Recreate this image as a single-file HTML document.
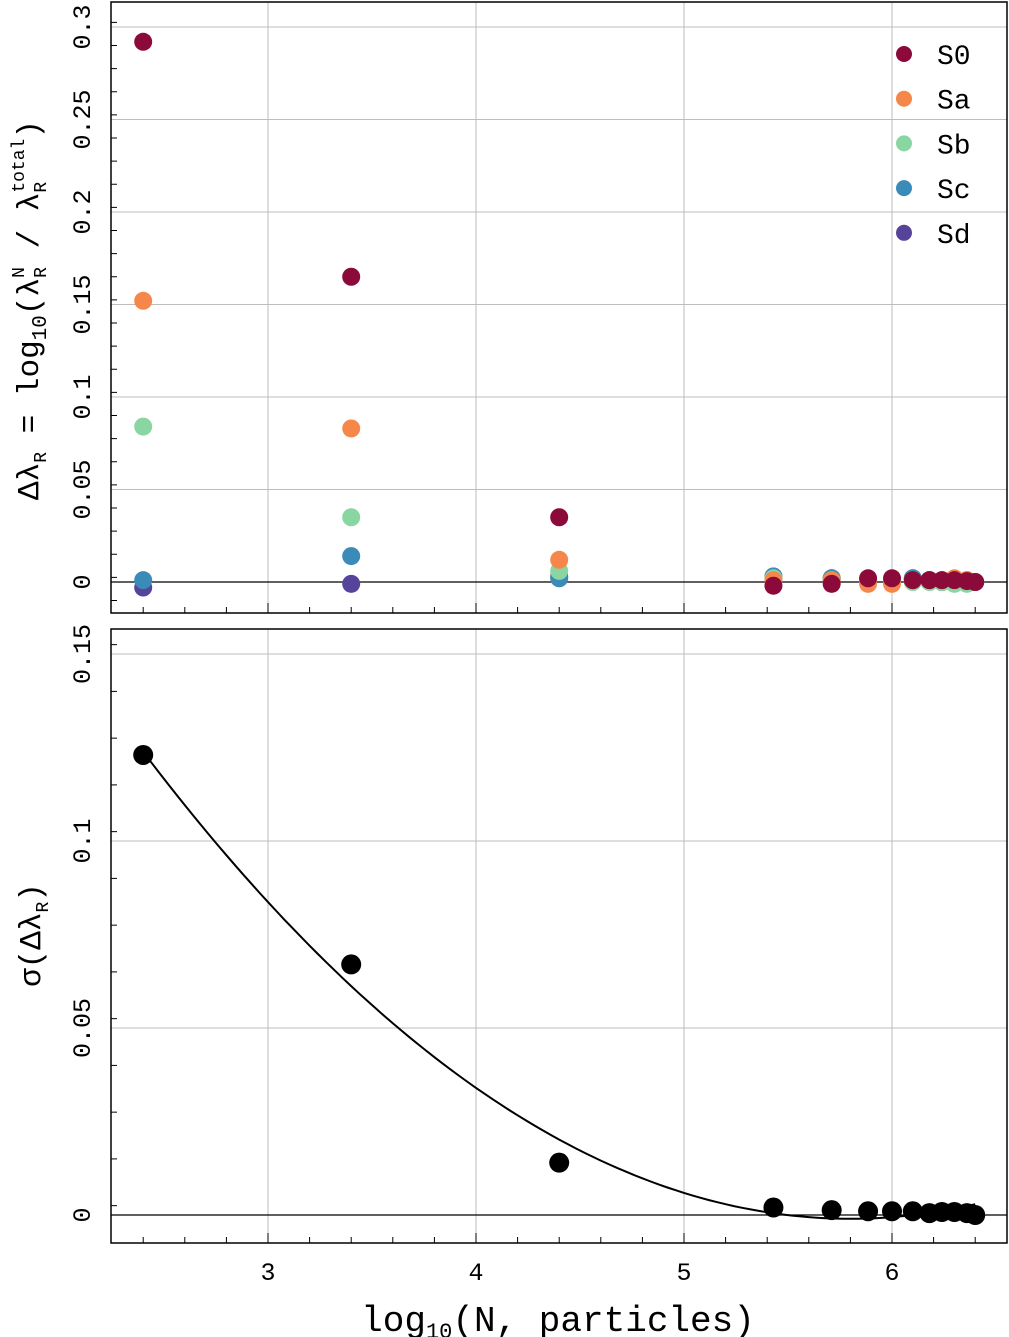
<!DOCTYPE html>
<html><head><meta charset="utf-8"><style>
body{margin:0;background:#fff}
svg{display:block;font-family:"Liberation Mono",monospace}
svg text{white-space:pre}
</style></head><body>
<svg id="c" width="1009" height="1337" viewBox="0 0 1009 1337"></svg>
<script>
const xs=[2.4,3.4,4.4,5.43,5.71,5.885,6.0,6.1,6.18,6.24,6.3,6.36,6.4];
const S0=[0.292,0.165,0.035,-0.002,-0.001,0.002,0.002,0.001,0.001,0.001,0.001,0.0005,0];
const Sa=[0.152,0.083,0.012,0.001,0.001,-0.001,-0.001,0.001,0.001,0.001,0.002,0.001,0];
const Sb=[0.084,0.035,0.006,0.002,0.001,0.001,0.001,0,0,0,-0.001,-0.001,0];
const Sc=[0.001,0.014,0.002,0.003,0.002,0.001,0.001,0.002,0.001,0,0.001,0.001,0];
const Sd=[-0.003,-0.001,0.003,0.003,0.002,0.001,0.001,0.002,0.001,0,0,0,0];
const sigma=[0.123,0.067,0.014,0.002,0.0013,0.001,0.001,0.001,0.0005,0.0008,0.0008,0.0005,0];
const fitA=0.0108, fitX0=5.8, fitC=-0.001;
const xTicks=[3,4,5,6];
const topTicks=[0,0.05,0.1,0.15,0.2,0.25,0.3];
const botTicks=[0,0.05,0.1,0.15];
const seriesNames=["Sd","Sc","Sb","Sa","S0"];
const legendNames=["S0","Sa","Sb","Sc","Sd"];
const colors={S0:"#8b0a3a",Sa:"#f6874a",Sb:"#8ad6a2",Sc:"#3a8bb8",Sd:"#56449a"};
const data={S0,Sa,Sb,Sc,Sd};

const svg=document.getElementById('c');
const NS="http://www.w3.org/2000/svg";
function mk(t,a,p){const e=document.createElementNS(NS,t);for(const k in a)e.setAttribute(k,a[k]);(p||svg).appendChild(e);return e;}
const X=v=>268+(v-3)*208;
const YT=v=>582-v*1850;
const YB=v=>1215-v*3740;
const L=111,R=1007;

function panel(top,bot,Y,ticks,minorStep,maxV,name){
  const g=mk('g',{});
  
  
  ticks.forEach(t=>{const y=Y(t);if(y>top&&y<bot)mk('line',{x1:L,x2:R,y1:y,y2:y,stroke:'#bdbdbd','stroke-width':1},g);});
  xTicks.forEach(t=>mk('line',{x1:X(t),x2:X(t),y1:top,y2:bot,stroke:'#bdbdbd','stroke-width':1},g));
  mk('line',{x1:L,x2:R,y1:Y(0),y2:Y(0),stroke:'#000','stroke-width':1.3},g);
  for(let v=-0.01;v<=maxV+1e-9;v+=minorStep){const y=Y(v);if(y<top||y>bot)continue;
    const maj=ticks.some(t=>Math.abs(t-v)<1e-6);
    mk('line',{x1:L,x2:L+(maj?10:6),y1:y,y2:y,stroke:'#000','stroke-width':1},g);}
  for(let v=2.4;v<=6.6;v+=0.2){const x=X(v);if(x<L||x>R)continue;
    const maj=xTicks.some(t=>Math.abs(t-v)<1e-6);
    mk('line',{x1:x,x2:x,y1:bot,y2:bot-(maj?10:6),stroke:'#000','stroke-width':1},g);}
  mk('rect',{x:L,y:top,width:R-L,height:bot-top,fill:'none',stroke:'#000','stroke-width':1.5},g);
  ticks.forEach(t=>{const y=Y(t);const tx=mk('text',{x:0,y:0,'font-size':25,'text-anchor':'middle',transform:`translate(${90},${y}) rotate(-90)`},g);tx.textContent=String(t);
    });
  return g;
}
const gt=panel(2,613,YT,topTicks,0.0125,0.31,'top-panel');
const gb=panel(629,1243,YB,botTicks,0.0125,0.16,'bottom-panel');

seriesNames.forEach(s=>{
  data[s].forEach((v,i)=>{const c=mk('circle',{cx:X(xs[i]),cy:YT(v),r:9,fill:colors[s]},gt);
    
    });
});
legendNames.forEach((s,i)=>{const y=54+i*44.7;
  const c=mk('circle',{cx:904,cy:y,r:8,fill:colors[s]});
  
  
  const t=mk('text',{x:937,y:y+10,'font-size':28});t.textContent=s;
  
  });

let d='';for(let k=0;k<=100;k++){const x=2.4+4*k/100;const y=fitA*(x-fitX0)**2+fitC;d+=(k?'L':'M')+X(x).toFixed(1)+','+YB(y).toFixed(1);}
const p=mk('path',{d,fill:'none',stroke:'#000','stroke-width':2},gb);


sigma.forEach((v,i)=>{const c=mk('circle',{cx:X(xs[i]),cy:YB(v),r:10,fill:'#000'},gb);
  
  });

xTicks.forEach(t=>{const tx=mk('text',{x:X(t),y:1280,'font-size':25,'text-anchor':'middle'});tx.textContent=String(t);
  });

function title(pieces,fs,name,transform){
  const g=mk('g',{transform});
  
  
  let x=0;
  pieces.forEach(pc=>{
    if(Array.isArray(pc[0])){
      const a=mk('text',{x,y:-14,'font-size':pc[1]},g);a.textContent=pc[0][0];
      const b=mk('text',{x,y:8,'font-size':pc[1]},g);b.textContent=pc[0][1];
      x+=Math.max(a.getComputedTextLength(),b.getComputedTextLength());
    }else{
      const t=mk('text',{x,y:pc[2]||0,'font-size':pc[1]||fs},g);t.textContent=pc[0];
      x+=t.getComputedTextLength();
    }
  });
  g.setAttribute('transform',transform+` translate(${-x/2},0)`);
}
title([['log',36],['10',22,7],['(N, particles)',36]],36,'x-axis-title','translate(558,1331)');
title([['Δλ',31],['R',18,8],[' = log',31],['10',21,8],['(λ',31],[['N','R'],18],[' / λ',31],[['total','R'],18],[')',31]],31,'top-y-axis-title','translate(38,310) rotate(-90)');
title([['σ(Δλ',31],['R',18,8],[')',31]],31,'bottom-y-axis-title','translate(40,935) rotate(-90)');
</script>
</body></html>
